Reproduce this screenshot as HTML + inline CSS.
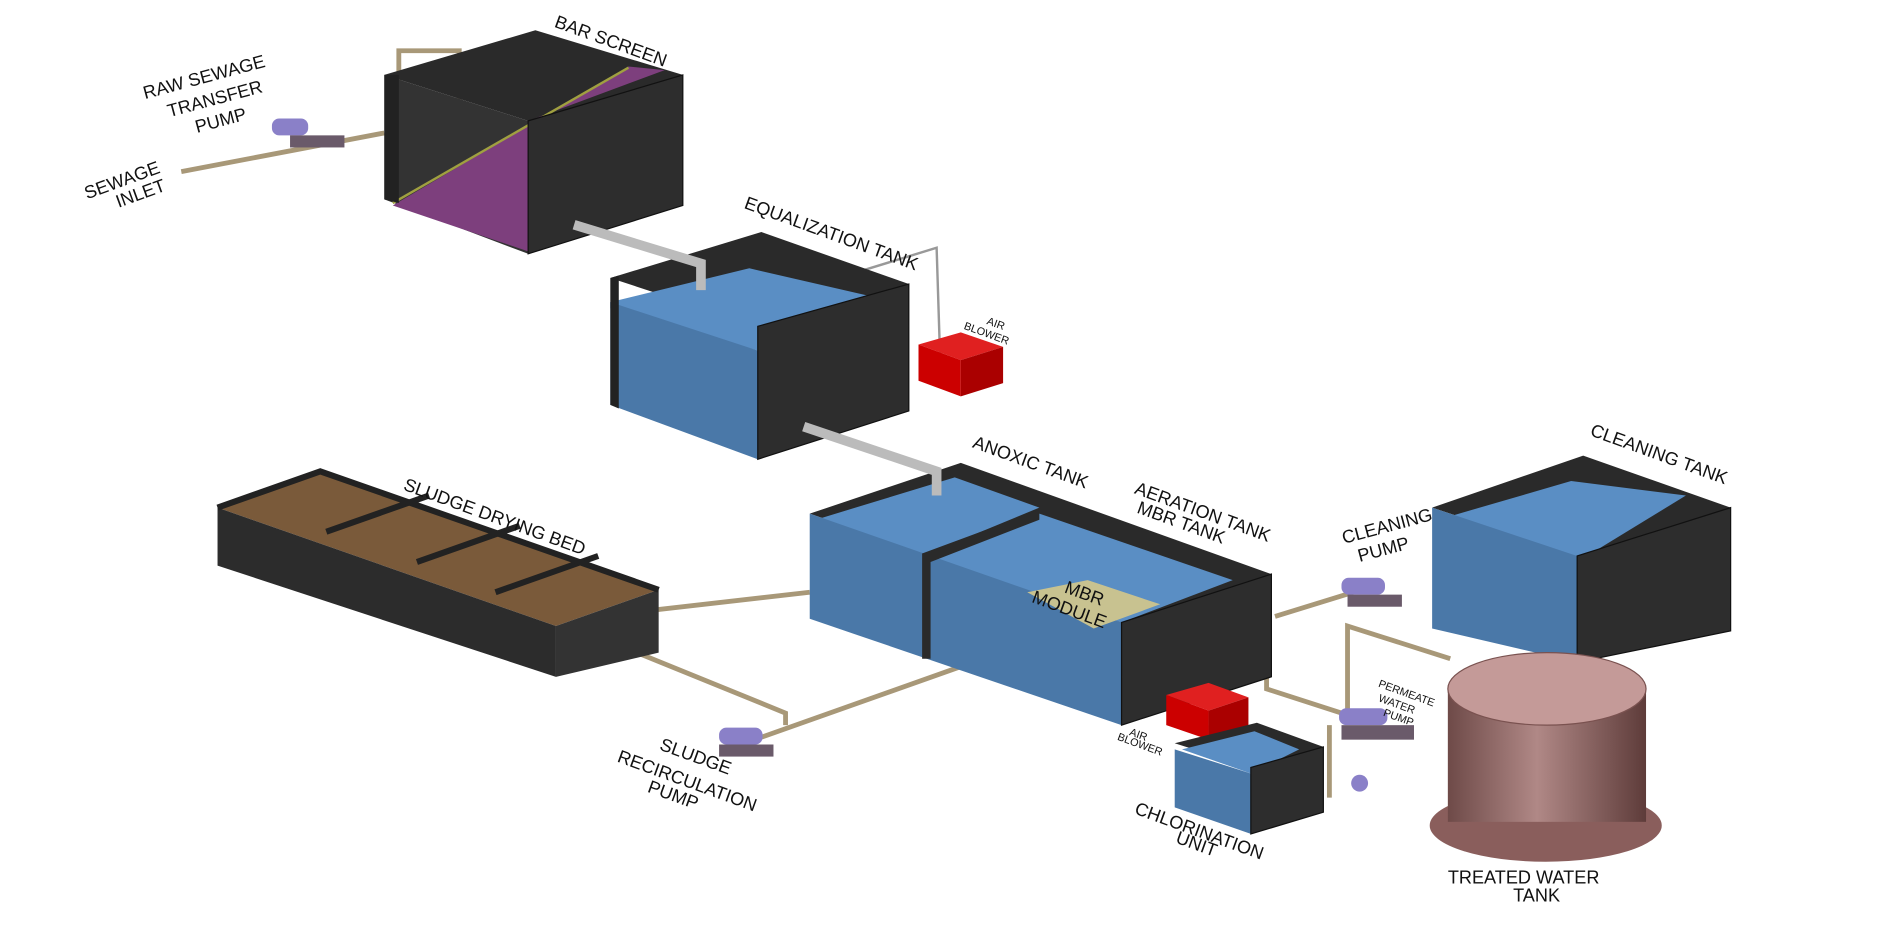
<!DOCTYPE html>
<html><head><meta charset="utf-8"><style>
html,body{margin:0;padding:0;background:#fff;}
svg{display:block;}
text{font-family:"Liberation Sans",sans-serif;fill:#111;}
</style></head><body>
<svg width="1895" height="927" viewBox="0 0 1568 767" preserveAspectRatio="none" xmlns="http://www.w3.org/2000/svg">
<defs>
<linearGradient id="cyl" x1="0" x2="1">
<stop offset="0" stop-color="#6e4a48"/><stop offset="0.45" stop-color="#b08886"/><stop offset="1" stop-color="#5e3c3a"/>
</linearGradient>
</defs>
<g stroke="#a89878" stroke-width="4" fill="none">
<path d="M150 142 L318 110"/>
<path d="M330 85 L330 42 L380 42 L380 85"/>
<path d="M495 510 L670 490"/>
<path d="M490 525 L650 590 L650 600"/>
<path d="M630 610 L805 548"/>
<path d="M1055 510 L1120 490"/>
<path d="M960 535 L968 545 L968 580"/>
<path d="M1025 517 L1048 517 L1048 570 L1110 590"/>
<path d="M1115 590 L1115 518 L1200 545"/>
<path d="M1100 600 L1100 660"/>
</g>
<path d="M700 238 L700 228 L775 205 L778 300" stroke="#999" stroke-width="2" fill="none"/>
<!-- Bar screen -->
<polygon points="318,62 443,25 565,62 437,100" fill="#2a2a2a"/>
<polygon points="318,62 437,100 437,210 318,165" fill="#333"/>
<polygon points="325,170 437,208 437,100 550,58 520,55" fill="#7d3f7d"/>
<path d="M325,168 L520,56" stroke="#a0a040" stroke-width="2" fill="none"/>
<polygon points="437,100 565,62 565,170 437,210" fill="#2d2d2d" stroke="#111"/>
<polygon points="318,62 330,62 330,168 318,165" fill="#222"/>
<!-- Equalization tank -->
<polygon points="505,230 630,192 752,235 627,270" fill="#2a2a2a"/>
<polygon points="505,250 620,222 720,245 627,290 505,255" fill="#5a8ec4"/>
<polygon points="505,250 627,290 627,380 505,335" fill="#4a78a8"/>
<polygon points="627,270 752,235 752,340 627,380" fill="#2d2d2d" stroke="#111"/>
<polygon points="505,230 512,228 512,338 505,335" fill="#222"/>
<path d="M475 186 L580 218 L580 240" stroke="#bbb" stroke-width="8" fill="none"/>
<!-- blower 1 -->
<polygon points="760,285 795,275 830,287 795,298" fill="#e02020"/>
<polygon points="760,285 795,298 795,328 760,315" fill="#c00"/>
<polygon points="795,298 830,287 830,317 795,328" fill="#a00"/>
<!-- Anoxic/Aeration -->
<polygon points="670,425 795,383 1052,475 928,515" fill="#2a2a2a"/>
<polygon points="675,430 790,395 860,420 763,460" fill="#5a8ec4"/>
<polygon points="763,460 860,425 1020,480 928,515" fill="#5a8ec4"/>
<polygon points="670,425 928,515 928,600 670,512" fill="#4a78a8"/>
<polygon points="763,458 860,422 860,430 770,465 770,545 763,545" fill="#2a2a2a"/>
<polygon points="850,490 900,480 960,500 905,520" fill="#c8c290"/>
<polygon points="928,515 1052,475 1052,560 928,600" fill="#2d2d2d" stroke="#111"/>
<path d="M665 353 L775 390 L775 410" stroke="#bbb" stroke-width="8" fill="none"/>
<!-- blower 2 -->
<polygon points="965,575 1000,565 1033,577 1000,588" fill="#e02020"/>
<polygon points="965,575 1000,588 1000,612 965,600" fill="#c00"/>
<polygon points="1000,588 1033,577 1033,600 1000,612" fill="#a00"/>
<!-- Cleaning tank -->
<polygon points="1185,420 1310,377 1432,420 1305,460" fill="#2a2a2a"/>
<polygon points="1190,430 1300,398 1395,410 1305,465" fill="#5a8ec4"/>
<polygon points="1185,420 1305,460 1305,548 1185,520" fill="#4a78a8"/>
<polygon points="1305,460 1432,420 1432,522 1305,548" fill="#2d2d2d" stroke="#111"/>
<!-- Chlorination -->
<polygon points="972,615 1040,598 1095,618 1035,635" fill="#2a2a2a"/>
<polygon points="972,620 1035,640 1035,690 972,668" fill="#4a78a8"/>
<polygon points="978,620 1038,605 1075,620 1035,640" fill="#5a8ec4"/>
<polygon points="1035,635 1095,618 1095,672 1035,690" fill="#2d2d2d" stroke="#111"/>
<!-- Sludge bed -->
<polygon points="180,420 265,390 545,488 460,518" fill="#7a5a3a"/>
<polygon points="180,420 460,518 460,560 180,468" fill="#2c2c2c"/>
<polygon points="460,518 545,488 545,540 460,560" fill="#333"/>
<g stroke="#222" stroke-width="5" fill="none"><path d="M270,440 L355,410"/><path d="M345,465 L430,435"/><path d="M410,490 L495,460"/><path d="M180,420 L265,390 L545,488"/></g>
<!-- Treated water tank -->
<ellipse cx="1279" cy="683" rx="96" ry="30" fill="#8a5e5c"/>
<rect x="1198" y="570" width="164" height="110" fill="url(#cyl)"/>
<ellipse cx="1280" cy="570" rx="82" ry="30" fill="#c49a98" stroke="#7a5250"/>
<!-- pumps -->
<g fill="#8a80c8"><rect x="225" y="98" width="30" height="14" rx="6"/><rect x="1110" y="478" width="36" height="14" rx="6"/><rect x="1108" y="586" width="40" height="14" rx="6"/><rect x="595" y="602" width="36" height="14" rx="6"/><circle cx="1125" cy="648" r="7"/></g>
<g fill="#6a5a6a"><rect x="240" y="112" width="45" height="10"/><rect x="1115" y="492" width="45" height="10"/><rect x="1110" y="600" width="60" height="12"/><rect x="595" y="616" width="45" height="10"/></g>
<!-- labels -->
<g font-size="15">
<text transform="translate(458,22) rotate(20)">BAR SCREEN</text>
<text transform="translate(120,82) rotate(-15)">RAW SEWAGE</text>
<text transform="translate(140,97) rotate(-15)">TRANSFER</text>
<text transform="translate(163,110) rotate(-15)">PUMP</text>
<text transform="translate(72,165) rotate(-20)">SEWAGE</text>
<text transform="translate(98,172) rotate(-20)">INLET</text>
<text transform="translate(615,172) rotate(20)">EQUALIZATION TANK</text>
<text transform="translate(804,370) rotate(20)">ANOXIC TANK</text>
<text transform="translate(938,408) rotate(20)">AERATION TANK</text>
<text transform="translate(940,424) rotate(20)">MBR TANK</text>
<text transform="translate(1315,360) rotate(20)">CLEANING TANK</text>
<text transform="translate(1112,450) rotate(-15)">CLEANING</text>
<text transform="translate(1125,465) rotate(-15)">PUMP</text>
<text transform="translate(333,405) rotate(20)">SLUDGE DRYING BED</text>
<text transform="translate(545,620) rotate(20)">SLUDGE</text>
<text transform="translate(510,630) rotate(20)">RECIRCULATION</text>
<text transform="translate(535,655) rotate(20)">PUMP</text>
<text transform="translate(938,673) rotate(20)">CHLORINATION</text>
<text transform="translate(972,697) rotate(20)">UNIT</text>
<text x="1198" y="731">TREATED WATER</text>
<text x="1252" y="746">TANK</text>
<text transform="translate(880,490) rotate(20)">MBR</text>
<text transform="translate(853,498) rotate(20)">MODULE</text>
</g>
<g font-size="9">
<text transform="translate(816,268) rotate(20)">AIR</text>
<text transform="translate(797,272) rotate(20)">BLOWER</text>
<text transform="translate(934,608) rotate(20)">AIR</text>
<text transform="translate(924,612) rotate(20)">BLOWER</text>
<text transform="translate(1140,568) rotate(20)">PERMEATE</text>
<text transform="translate(1140,580) rotate(20)">WATER</text>
<text transform="translate(1144,592) rotate(20)">PUMP</text>
</g>
</svg>
</body></html>
